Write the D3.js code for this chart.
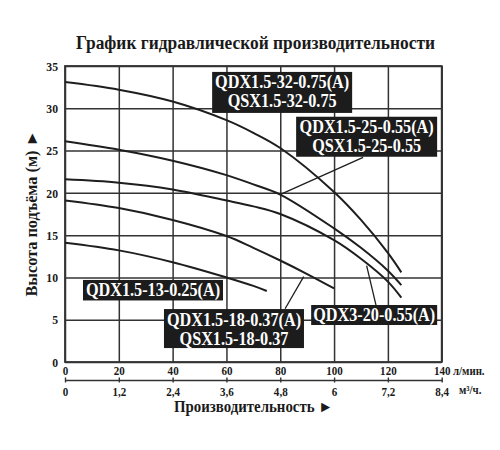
<!DOCTYPE html>
<html>
<head>
<meta charset="utf-8">
<script src="https://cdn.jsdelivr.net/npm/d3@7"></script>
<style>
  body { margin: 0; background: #fff; }
  text { font-family: "Liberation Serif", "DejaVu Serif", "Times New Roman", serif; font-weight: bold; fill: #1a1a1a; }
</style>
</head>
<body>
<div id="chart"></div>
<script>
// pump curves: flow in l/min, head in m
var flow32 = [0, 20, 40, 60, 70, 80, 100, 110, 120, 125];
var head32 = [33.1, 32.2, 30.8, 28.6, 27.1, 25.3, 20.1, 16.8, 12.9, 10.6];
var flow25 = [0, 20, 40, 60, 70, 80, 100, 110, 120, 125];
var head25 = [26.1, 25.1, 23.8, 22.1, 21.0, 19.8, 15.8, 13.5, 10.8, 9.1];
var flow20 = [0, 20, 40, 60, 70, 80, 100, 110, 120, 125];
var head20 = [21.6, 21.2, 20.4, 19.1, 18.4, 17.5, 14.4, 12.2, 9.5, 7.6];
var flow18 = [0, 20, 40, 60, 70, 80, 90, 100];
var head18 = [19.1, 18.2, 16.8, 14.9, 13.5, 12.0, 10.4, 8.7];
var flow13 = [0, 20, 40, 60, 70, 75];
var head13 = [14.1, 13.2, 11.8, 10.0, 9.0, 8.4];

// axis ticks
var flowTicks = [0, 20, 40, 60, 80, 100, 120, 140];
var m3Ticks = [0, 1.2, 2.4, 3.6, 4.8, 6, 7.2, 8.4];
var headTicks = [0, 5, 10, 15, 20, 25, 30, 35];

// model labels
var labels32 = ["QDX1.5-32-0.75(A)", "QSX1.5-32-0.75"];
var labels25 = ["QDX1.5-25-0.55(A)", "QSX1.5-25-0.55"];
var labels20 = ["QDX3-20-0.55(A)"];
var labels18 = ["QDX1.5-18-0.37(A)", "QSX1.5-18-0.37"];
var labels13 = ["QDX1.5-13-0.25(A)"];

var title = "График гидравлической производительности";
var yTitle = "Высота подъёма (м) ►";
var xTitle = "Производительность ►";

var width = 500, height = 450;
var svg = d3.select("#chart").append("svg")
            .attr("width", width)
            .attr("height", height);

var x = d3.scaleLinear().domain([0, 140]).range([65, 441.7]);
var xM3 = d3.scaleLinear().domain([0, 8.4]).range([65, 441.7]);
var y = d3.scaleLinear().domain([0, 35]).range([362, 66]);

//squeeze text horizontally (reference type is narrow)
function squeeze(sel, k) {
  sel.each(function () {
    var len = this.getComputedTextLength();
    d3.select(this).attr("textLength", len * k).attr("lengthAdjust", "spacingAndGlyphs");
  });
}

var gridColor = "#333";
//grid
svg.append("g")
   .attr("transform", `translate(0, ${y(0)})`)
   .call(d3.axisBottom(x).tickValues(flowTicks).tickSize(-(y(0) - y(35))).tickFormat(""))
   .call(g => g.select(".domain").remove())
   .selectAll("line").attr("stroke", gridColor).attr("stroke-width", 1.5);
svg.append("g")
   .attr("transform", `translate(${x(0)}, 0)`)
   .call(d3.axisLeft(y).tickValues(headTicks).tickSize(-(x(140) - x(0))).tickFormat(""))
   .call(g => g.select(".domain").remove())
   .selectAll("line").attr("stroke", gridColor).attr("stroke-width", 1.5);
svg.append("rect")
   .attr("x", x(0)).attr("y", y(35))
   .attr("width", x(140) - x(0)).attr("height", y(0) - y(35))
   .attr("fill", "none").attr("stroke", gridColor).attr("stroke-width", 1.8);

//tick labels
var xAx = svg.append("g")
   .attr("transform", `translate(0, ${y(0)})`)
   .call(d3.axisBottom(x).tickValues(flowTicks).tickSize(0).tickPadding(4))
   .call(g => g.select(".domain").remove());
xAx.selectAll("text").style("font-size", "13px").attr("fill", "#1a1a1a");
squeeze(xAx.selectAll("text"), 0.85);

var yAx = svg.append("g")
   .attr("transform", `translate(${x(0)}, 0)`)
   .call(d3.axisLeft(y).tickValues(headTicks).tickSize(0).tickPadding(7))
   .call(g => g.select(".domain").remove());
yAx.selectAll("text").style("font-size", "13px").attr("fill", "#1a1a1a");
squeeze(yAx.selectAll("text"), 0.9);

//secondary axis m3/h
var m3Ax = svg.append("g")
   .attr("transform", "translate(0, 380)")
   .call(d3.axisBottom(xM3).tickValues(m3Ticks).tickSizeInner(2.5).tickSizeOuter(0).tickPadding(4)
           .tickFormat(d => String(+d.toFixed(1)).replace(".", ",")));
m3Ax.select(".domain").attr("stroke", gridColor).attr("stroke-width", 1.4);
m3Ax.selectAll(".tick line").attr("y1", -2.5).attr("stroke", gridColor).attr("stroke-width", 1.4);
m3Ax.selectAll("text").style("font-size", "13px").attr("fill", "#1a1a1a");
squeeze(m3Ax.selectAll("text"), 0.85);

svg.append("text").attr("x", 453).attr("y", 375).style("font-size", "12px").text("л/мин.")
   .call(squeeze, 0.9);
svg.append("text").attr("x", 459).attr("y", 394).style("font-size", "12px").text("м³/ч.")
   .call(squeeze, 0.9);

//titles
svg.append("text").attr("x", 255.5).attr("y", 48.5).attr("text-anchor", "middle")
   .style("font-size", "18px").attr("textLength", 359).attr("lengthAdjust", "spacingAndGlyphs")
   .text(title);
svg.append("text").attr("x", 174).attr("y", 411.5)
   .style("font-size", "16px").attr("textLength", 159).attr("lengthAdjust", "spacingAndGlyphs")
   .text(xTitle);
svg.append("text").attr("transform", "translate(36.5, 213.5) rotate(-90)").attr("text-anchor", "middle")
   .style("font-size", "16px").attr("textLength", 166).attr("lengthAdjust", "spacingAndGlyphs")
   .text(yTitle);

//curves
var line = d3.line().x(d => x(d[0])).y(d => y(d[1])).curve(d3.curveCatmullRom.alpha(0.5));
var curves = [[flow32, head32], [flow25, head25], [flow20, head20], [flow18, head18], [flow13, head13]];
svg.append("g").selectAll("path")
   .data(curves)
   .enter()
   .append("path")
   .attr("d", c => line(c[0].map((f, i) => [f, c[1][i]])))
   .attr("fill", "none")
   .attr("stroke", "#1e1e1e")
   .attr("stroke-width", 2);

//leader lines (label edge -> curve), in chart units
var leaders = [
  [[110.8, 24.2], [79.9, 19.8]],
  [[115.6, 6.7], [112.1, 11.4]],
  [[81.8, 6.3], [88.7, 10.1]]
];
svg.append("g").selectAll("line")
   .data(leaders)
   .enter()
   .append("line")
   .attr("x1", d => x(d[0][0])).attr("y1", d => y(d[0][1]))
   .attr("x2", d => x(d[1][0])).attr("y2", d => y(d[1][1]))
   .attr("stroke", "#1e1e1e").attr("stroke-width", 1.3);

//label boxes: centre flow, top head, box size px
var boxes = [
  { lines: labels32, cx: 80.7, top: 34.3, w: 140, h: 41 },
  { lines: labels25, cx: 112.1, top: 29.0, w: 141, h: 40 },
  { lines: labels20, cx: 114.9, top: 6.74, w: 126, h: 20 },
  { lines: labels18, cx: 62.8, top: 6.26, w: 140, h: 39 },
  { lines: labels13, cx: 32.7, top: 9.7, w: 140, h: 20.5 }
];
var lab = svg.append("g").selectAll("g")
   .data(boxes)
   .enter()
   .append("g")
   .attr("transform", d => `translate(${x(d.cx)}, ${y(d.top)})`);
lab.append("rect")
   .attr("x", d => -d.w / 2).attr("y", 0)
   .attr("width", d => d.w).attr("height", d => d.h)
   .attr("fill", "#1c1c1c");
lab.selectAll("text")
   .data(d => d.lines)
   .enter()
   .append("text")
   .attr("text-anchor", "middle")
   .attr("y", (d, i) => 16.5 + i * 19)
   .style("font-size", "18px")
   .style("fill", "#fff")
   .text(d => d)
   .call(squeeze, 0.9);
</script>
</body>
</html>
